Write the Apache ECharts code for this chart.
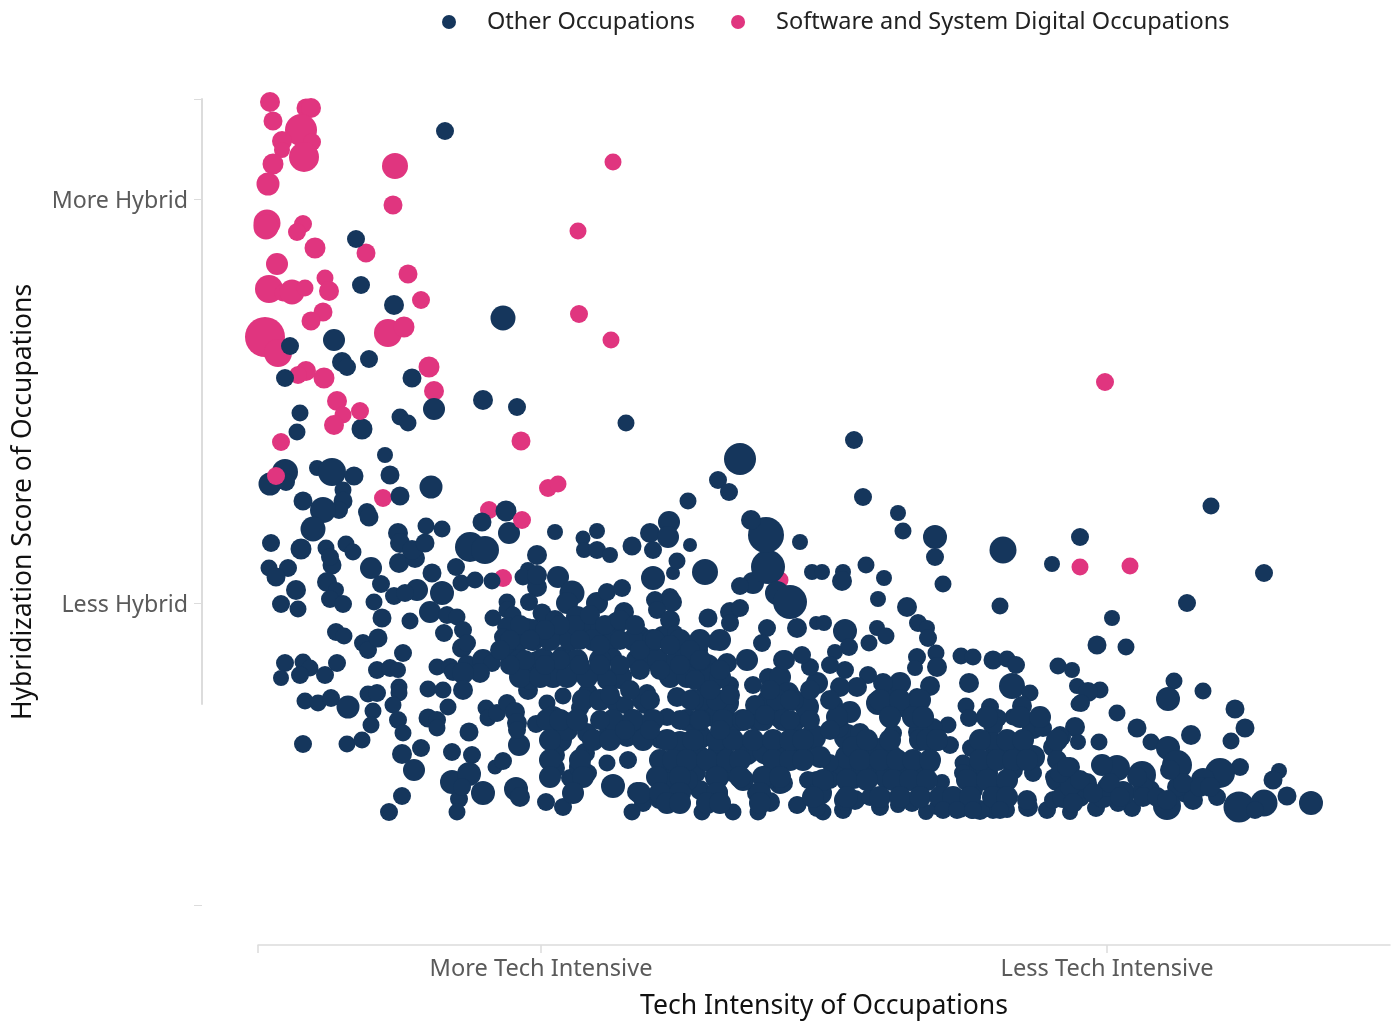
<!DOCTYPE html>
<html><head><meta charset="utf-8">
<style>html,body{margin:0;padding:0;background:#fff}#c{width:1397px;height:1025px}</style>
<script src="https://cdn.jsdelivr.net/npm/echarts@6/dist/echarts.min.js"></script>
</head><body><div id="c"></div>
<script>
// [tech intensity index, hybridization index, relative employment]
const softwareUnder=[[12,803,20],[15,784,19],[48,797,19],[53,797,20],[43,775,32],[24,764,20],[24,755,16],[54,763,18],[46,748,30],[15,741,21],[10,721,23],[9,682,27],[8,678,25],[45,681,18],[39,673,18],[57,657,21],[19,641,22],[11,616,28],[25,612,17],[34,613,25],[47,617,17],[67,627,17],[71,614,20],[65,593,19],[53,584,19],[7,568,40],[20,552,28],[48,534,20],[40,530,18],[66,527,21],[130,572,28],[146,578,21],[137,739,26],[135,700,19],[108,652,19],[150,631,19],[163,605,18],[171,538,21],[176,514,20],[355,743,17],[320,674,17],[321,591,18],[353,565,17],[847,523,18],[79,504,20],[85,490,17],[76,480,20],[23,463,18],[125,407,18],[263,464,19],[290,417,18],[300,421,17],[231,395,18],[245,327,18],[522,325,17],[822,338,17],[872,339,17]];
const softwareOver=[[18,429,18],[102,494,18],[264,385,18]];
const otherOccupations=[
[187,774,18],[98,666,18],[103,620,18],[136,600,20],[245,587,25],[76,565,22],[32,559,18],[84,543,20],[89,538,18],[111,546,18],[154,527,19],[27,527,18],[225,505,20],[259,498,18],[176,496,22],[42,492,17],[142,488,17],[150,482,17],[39,473,17],[104,476,21],[368,482,17],[596,465,18],[482,446,32],[127,450,16],[132,430,19],[27,433,26],[12,421,23],[28,423,18],[59,437,16],[74,433,28],[96,429,19],[85,415,17],[85,404,19],[81,395,18],[65,395,26],[45,404,19],[55,376,25],[173,418,23],[142,409,19],[109,393,18],[111,388,19],[460,425,18],[471,413,18],[430,404,17],[605,408,18],[640,392,16],[645,374,17],[953,399,17],[677,368,24],[677,348,18],[685,321,17],[822,368,18],[745,355,27],[794,341,16],[1006,332,18],[742,299,17],[929,302,18],[854,287,16],[839,260,19],[868,258,17],[248,394,21],[224,383,19],[251,372,22],[297,373,16],[184,376,17],[168,379,17],[140,372,20],[142,362,20],[141,342,20],[157,347,20],[154,355,20],[167,362,19],[212,358,30],[227,355,28],[13,362,18],[43,356,21],[68,357,17],[88,361,17],[95,353,17],[74,340,19],[72,348,18],[11,337,17],[30,337,18],[18,328,19],[38,315,20],[23,301,18],[40,296,17],[69,323,20],[78,315,16],[72,306,18],[85,301,18],[113,337,22],[123,321,18],[116,303,17],[124,287,19],[136,309,18],[152,284,17],[159,315,22],[147,312,18],[174,332,19],[198,338,18],[203,322,17],[217,325,17],[234,324,17],[184,312,24],[172,293,22],[189,290,18],[199,288,17],[186,272,18],[205,275,18],[204,257,20],[209,262,18],[78,273,18],[86,269,17],[105,262,18],[110,255,18],[120,267,19],[145,252,18],[79,242,18],[27,242,18],[45,243,17],[52,237,17],[67,230,18],[42,230,18],[23,227,16],[119,235,18],[132,237,18],[140,235,16],[179,238,17],[192,238,18],[209,240,20],[225,245,22],[234,242,18],[195,233,18],[222,232,20],[205,232,22],[265,240,19],[279,242,24],[285,238,24],[249,303,17],[235,287,17],[249,295,17],[255,290,17],[249,278,20],[245,268,18],[269,277,20],[275,277,18],[250,255,18],[276,263,16],[279,350,20],[270,335,16],[265,328,17],[279,318,20],[271,303,18],[284,292,19],
[47,204,17],[60,202,17],[73,207,18],[90,198,23],[110,211,17],[119,212,18],[115,194,17],[113,180,17],[141,218,17],[141,212,17],[135,200,17],[140,185,18],[145,172,17],[170,216,17],[185,215,17],[205,215,20],[190,198,17],[170,187,19],[179,185,18],[179,177,17],[211,173,19],[45,161,18],[89,161,17],[104,165,17],[144,151,20],[163,157,18],[156,135,22],[194,153,18],[214,150,18],[194,123,24],[211,131,24],[201,106,18],[199,93,17],[204,118,18],[225,112,24],[237,138,15],[245,144,18],[258,116,24],[262,108,20],[144,109,18],[131,93,18],[288,103,18],[305,98,18],[261,160,22],[228,197,17],[230,187,17],[239,192,18],[249,202,18],[257,193,20],[259,182,20],[259,175,18],[278,181,18],[289,202,17],[305,209,17],[270,215,20],[295,187,24],[305,182,24],[302,165,24],[297,150,20],[297,137,20],[292,128,18],[312,127,18],[317,110,16],
[279,330,20],[300,328,22],[314,312,25],[309,302,22],[285,290,16],[297,285,20],[319,288,22],[339,302,22],[349,313,18],[364,317,18],[366,293,20],[359,282,22],[342,275,24],[322,278,22],[302,272,20],[275,265,22],[249,252,20],[272,225,20],[295,228,22],[285,245,24],[305,248,22],[322,235,22],[342,235,22],[355,265,22],[355,248,18],[362,228,24],[349,225,20],[382,268,22],[385,248,22],[405,268,22],[399,245,24],[397,305,18],[395,327,24],[412,308,18],[415,332,14],[414,303,20],[399,295,18],[412,285,20],[417,272,16],[447,333,26],[450,287,19],[472,293,20],[482,297,18],[472,282,18],[509,277,18],[504,262,18],[457,263,17],[439,255,22],[432,235,26],[449,238,26],[469,242,20],[489,245,22],[525,245,20],[510,228,18],[522,228,22],[495,220,18],[472,220,18],[419,208,20],[455,228,28],[449,205,30],[469,202,24],[389,212,18],[387,200,18],[409,188,18],[357,202,18],[367,200,18],[330,212,20],[309,175,22],[329,172,20],[322,197,18],[352,172,22],[369,168,20],[385,175,22],[402,165,18],[422,162,24],[442,168,24],[462,155,24],[455,188,20],[475,182,22],[499,185,22],[522,188,22],[535,182,22],[509,205,20],[525,202,20],[489,152,24],[509,155,30],[529,148,24],[475,135,24],[455,142,22],[442,148,22],[409,138,26],[424,135,24],[439,132,18],[349,142,17],[370,145,18],[355,119,24],[379,113,20],[385,102,18],[374,93,17],[402,107,22],[419,105,24],[442,115,20],[459,112,22],[444,93,17],[475,93,17],[500,93,17],[512,103,20],[499,112,20],[522,122,22],[509,128,24],[485,125,22],[459,128,24],[429,125,22],[409,122,22],[539,100,18],[327,152,20],[330,132,18],[314,127,18],[322,138,22],[495,322,22],[482,319,18],[510,338,34],[519,312,24],[532,303,34],[508,370,36],[493,385,20],[542,363,16],
[392,372,20],[411,383,22],[410,368,22],[395,355,18],[419,344,17],[432,360,14],[374,359,19],[339,374,16],[325,367,15],[326,355,16],[339,355,18],[352,350,16],[554,333,16],[564,333,16],[585,333,16],[584,324,20],[608,340,17],[626,327,16],[620,306,16],[649,298,20],[539,277,20],[587,274,24],[558,282,14],[566,282,16],
[591,258,18],[577,253,16],[619,277,16],[628,269,17],[611,262,17],[660,282,18],[669,277,16],[670,267,18],[678,252,17],[679,238,20],[659,248,18],[657,237,16],[672,219,20],[703,249,17],[715,248,17],[735,245,19],[749,246,17],[758,240,18],[711,222,20],[754,219,26],[772,212,17],[764,199,20],[755,188,17],[800,239,17],[814,235,16],[819,219,16],[820,201,15],[817,178,20],[708,199,17],[732,198,18],[711,187,18],[740,187,18],[735,180,20],[690,180,17],[675,177,20],[660,173,20],[692,160,18],[679,165,22],[662,165,22],[713,157,18],[705,142,17],[705,132,18],[722,138,22],[735,162,22],[752,158,22],[775,177,22],[785,177,18],[804,168,18],[795,158,20],[775,148,24],[755,148,24],[735,145,22],[799,145,20],[812,138,20],[795,128,16],[775,132,18],[755,135,20],[742,118,22],[729,132,22],[715,115,20],[702,105,20],[749,95,16],[735,95,18],[722,95,20],[714,95,18],[702,97,20],[770,98,20],[769,105,20],[789,95,18],[812,93,16],[795,105,18],[815,115,18],[668,93,16],[679,98,16],[622,98,18],[640,100,16],[654,102,18],[585,95,18],[565,93,17],[559,97,18],[540,100,17],[587,105,22],[597,105,20],[612,108,18],[582,132,20],[595,128,24],[559,122,24],[550,125,18],[562,112,24],[572,125,18],[525,122,20],[615,135,22],[629,128,24],[645,128,24],[662,128,22],[672,142,20],[684,123,16],[632,148,26],[612,148,24],[589,148,24],[572,142,18],[589,168,26],[602,172,20],[595,158,22],[622,155,24],[635,172,18],[577,201,16],[592,193,22],[580,178,22],[620,202,24],[635,205,26],[652,198,26],[659,208,18],[642,222,22],[625,222,20],[610,230,18],[599,218,20],[587,235,18],[572,240,18],[582,218,20],[559,222,22],[552,238,18],[544,250,18],[527,245,20],[530,212,22],[549,198,24],[535,177,18],[555,168,26],[542,155,24],[529,148,22],[562,148,22],
[842,215,17],[830,213,20],[823,202,18],[859,192,17],[879,177,19],[893,163,17],[916,224,17],[910,206,24],[945,214,17],[977,196,19],[987,177,19],[973,164,17],[933,170,20],[820,163,16],[841,163,17],[802,170,18],[910,157,24],[919,140,30],[982,138,18],[962,132,30],[945,125,24],[959,108,18],[929,115,26],[909,99,28],[981,98,31],[1006,102,27],[997,95,18],[1029,109,19],[1053,102,24],[1021,134,16],[1015,125,19],[884,130,28],[859,137,26],[844,140,22],[874,97,18],[860,102,18],[838,97,18],[822,108,20],[845,108,22],[865,112,24],[892,115,20],[829,122,20],[809,118,20],[849,118,20],[885,118,20],[919,118,20],[935,105,20],
[262,265,22],[292,265,22],[312,265,22],[335,265,22],[375,265,22],[395,265,22],[422,265,22],[442,265,22],[462,265,22],[262,245,22],[319,245,22],[342,245,22],[379,245,22],[419,245,22],[442,245,22],[262,228,22],[282,228,22],[309,228,22],[329,228,22],[412,228,22],[429,228,22],[462,228,22],[325,205,22],[342,205,22],[385,205,22],[435,205,22],[459,205,22],[519,205,22],[535,205,22],[289,185,22],[302,185,22],[319,185,22],[355,185,22],[375,185,22],[395,185,22],[429,185,22],[442,185,22],[465,185,22],[485,185,22],[505,185,22],[525,185,22],[292,165,22],[335,165,22],[352,165,22],[385,165,22],[409,165,22],[435,165,22],[459,165,22],[475,165,22],[495,165,22],[515,165,22],[535,165,22],[292,145,22],[322,145,22],[402,145,22],[415,145,22],[429,145,22],[449,145,22],[469,145,22],[482,145,22],[515,145,22],[532,145,22],[292,128,22],[325,128,22],[399,128,22],[422,128,22],[459,128,22],[482,128,22],[505,128,22],[522,128,22],[315,112,22],[382,112,22],[402,112,22],[422,112,22],[459,112,22],[502,112,22],[409,102,22],[422,102,22],[449,102,22],[462,102,22],[502,102,22],
[622,205,22],[642,205,22],[662,205,22],[579,188,22],[632,188,22],[655,188,22],[665,188,22],[729,188,22],[762,188,22],[782,188,22],[532,165,22],[545,165,22],[609,165,22],[632,165,22],[669,165,22],[679,165,22],[722,165,22],[749,165,22],[765,165,22],[799,165,22],[545,145,22],[602,145,22],[622,145,22],[639,145,22],[655,145,22],[672,145,22],[722,145,22],[739,145,22],[755,145,22],[769,145,22],[565,125,22],[589,125,22],[609,125,22],[635,125,22],[652,125,22],[669,125,22],[709,125,22],[729,125,22],[749,125,22],[799,125,22],[812,125,22],[555,108,22],[589,108,22],[622,108,22],[642,108,22],[662,108,22],[682,108,22],[695,108,22],[712,108,22],[735,108,22],[749,108,22],[805,108,22],[685,95,18],[699,95,18],[715,95,18],[742,95,18],
[812,118,20],[822,125,20],[835,112,20],[852,122,20],[862,108,20],[879,128,20],[885,108,20],[899,108,20],[909,105,20],[925,122,20],[942,118,20],[952,118,20],[802,132,20],[809,138,20],[815,102,20],[912,135,20],
[317,280,20],[332,290,20],[347,280,20],[362,285,20],[377,280,20],[302,280,20],[287,275,20],[262,280,20],[272,265,20],[252,265,20],[322,265,20],[342,260,20],[362,265,20],[382,255,20],[397,265,20],[412,260,20],[432,255,20],[442,245,20],[462,235,20],[437,225,20],[422,240,20],[402,235,20],[382,235,20],[362,240,20],[342,240,20],[322,240,20],[302,245,20],[287,240,20],[267,245,20],[252,240,20],[242,255,20],
[352,210,20],[372,215,20],[392,205,20],[432,205,20],[452,215,20],[472,210,20],[497,200,20],[512,215,20],[532,205,20],[552,215,20],[572,205,20],[342,185,20],[367,175,20],[392,175,20],[422,185,20],[442,185,20],[462,175,20],[487,185,20],[507,190,20],[532,185,20],[552,185,20],[572,175,20]
];
const xTicks=[0,283,849];
const xTickLabels={283:"More Tech Intensive",849:"Less Tech Intensive"};
const yTicks=[302,706,806];
const yTickLabels={302:"Less Hybrid",706:"More Hybrid"};
const navy="#15365c", pink="#e0357f", axisGrey="#dcdcdc", labelGrey="#5a5a5a";
const fontFam="'Noto Sans','Open Sans',sans-serif";
const OTHER="Other Occupations", SOFT="Software and System Digital Occupations";
const size=v=>v[2];
const chart=echarts.init(document.getElementById('c'),null,{renderer:'canvas'});
chart.setOption({
 animation:false,backgroundColor:'#fff',
 legend:{data:[{name:OTHER},{name:SOFT}],top:10,left:442,padding:0,itemWidth:14,itemHeight:14,icon:'circle',itemGap:36,
  textStyle:{fontFamily:fontFam,fontSize:23.5,color:'#222',padding:[0,0,0,26]}},
 grid:[{left:258,top:99,width:1132,height:806},{left:202,top:99,width:100,height:605}],
 xAxis:[
  {gridIndex:0,type:'value',min:0,max:1132,offset:40,position:'bottom',splitLine:{show:false},
   axisLine:{show:true,onZero:false,lineStyle:{color:axisGrey,width:1.5}},
   axisTick:{show:true,length:8,customValues:xTicks,lineStyle:{color:axisGrey,width:1.5}},
   axisLabel:{show:true,customValues:[283,849],formatter:v=>xTickLabels[v]||'',fontFamily:fontFam,fontSize:23.6,color:labelGrey,margin:12},
   name:"Tech Intensity of Occupations",nameLocation:'middle',nameGap:48,nameTextStyle:{fontFamily:fontFam,fontSize:26.6,color:'#111'}},
  {gridIndex:1,type:'value',min:0,max:100,show:false}
 ],
 yAxis:[
  {gridIndex:0,type:'value',min:0,max:806,offset:56,position:'left',splitLine:{show:false},
   axisLine:{show:false,onZero:false},axisTick:{show:true,length:8,customValues:[0],lineStyle:{color:axisGrey}},axisLabel:{show:false},
   name:"Hybridization Score of Occupations",nameLocation:'middle',nameGap:165,nameRotate:90,nameTextStyle:{fontFamily:fontFam,fontSize:26.5,color:'#111'}},
  {gridIndex:1,type:'value',min:201,max:806,position:'left',splitLine:{show:false},
   axisLine:{show:true,onZero:false,lineStyle:{color:axisGrey,width:2}},
   axisTick:{show:true,length:8,customValues:yTicks,lineStyle:{color:axisGrey}},
   axisLabel:{show:true,customValues:[302,706],formatter:v=>'{a|'+(yTickLabels[v]||'')+'}',margin:14,
    rich:{a:{fontFamily:fontFam,fontSize:23.2,color:labelGrey,padding:[5,0,0,0]}}}}
 ],
 series:[
  {name:SOFT,type:'scatter',xAxisIndex:0,yAxisIndex:0,data:softwareUnder,symbolSize:size,clip:false,itemStyle:{color:pink,opacity:1},z:2},
  {name:OTHER,type:'scatter',xAxisIndex:0,yAxisIndex:0,data:otherOccupations,symbolSize:size,clip:false,large:false,itemStyle:{color:navy,opacity:1},z:3},
  {name:SOFT,type:'scatter',xAxisIndex:0,yAxisIndex:0,data:softwareOver,symbolSize:size,clip:false,itemStyle:{color:pink,opacity:1},z:4}
 ]
});
</script></body></html>
